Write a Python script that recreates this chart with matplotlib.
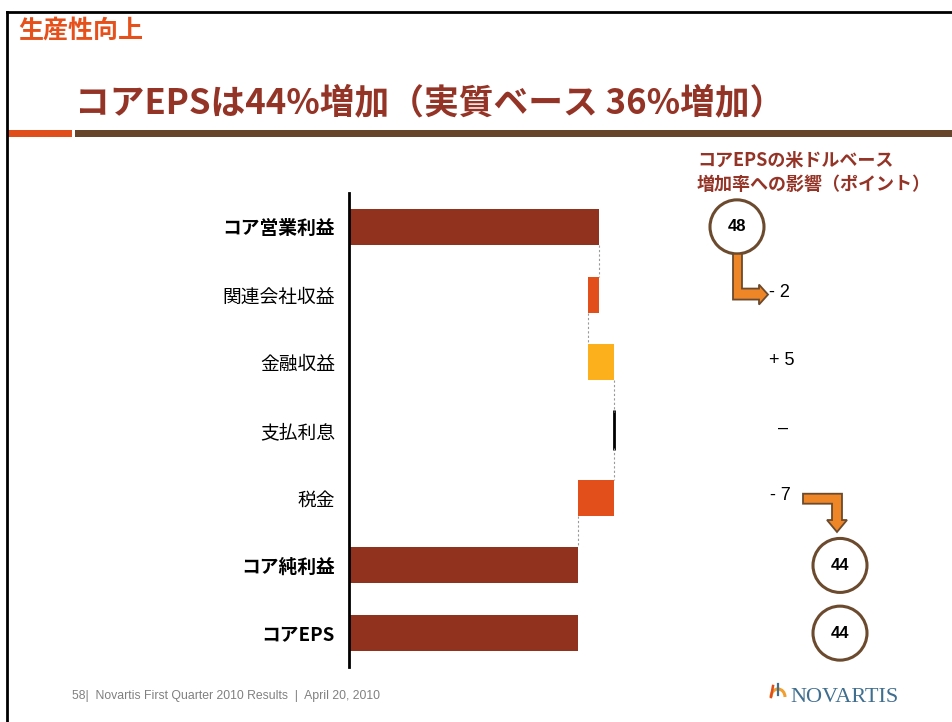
import matplotlib.pyplot as plt
from matplotlib.patches import Circle, Polygon, Arc

plt.rcParams['font.family'] = ['Noto Sans CJK JP', 'DejaVu Sans']

# データ
categories = ["コア営業利益", "関連会社収益", "金融収益", "支払利息", "税金", "コア純利益", "コアEPS"]
values = [48, -2, 5, 0, -7, 44, 44]
is_total = [True, False, False, False, False, True, True]
right_labels = ["48", "- 2", "+ 5", "–", "- 7", "44", "44"]

dark_red = "#91321F"
title_red = "#943427"
orange_red = "#E34F1A"
yellow = "#FCB11C"
brown = "#6B4A2E"
arrow_orange = "#EE8527"
arial = ['Liberation Sans', 'DejaVu Sans']

W, H = 953, 722
fig = plt.figure(figsize=(W / 100, H / 100), dpi=100)

# 全体を覆う装飾用の軸（ピクセル座標, y下向き）
ov = fig.add_axes([0, 0, 1, 1])
ov.set_xlim(0, W)
ov.set_ylim(H, 0)
ov.axis('off')

# 枠線と見出し
ov.plot([7, W], [12, 12], color='black', lw=2)
ov.plot([7, 7], [12, H], color='black', lw=2)
ov.text(18, 31, "生産性向上", color="#E5501B", fontsize=18, fontweight='bold',
        va='center', ha='left')
ov.text(75, 103, "コアEPSは44%増加（実質ベース 36%増加）", color=title_red,
        fontsize=25, fontweight='bold', va='center', ha='left')
ov.fill_between([8, 72], 130, 137, color="#E04E1B", lw=0)
ov.fill_between([75, W], 130, 137, color="#66452A", lw=0)

ov.text(697, 160, "コアEPSの米ドルベース", color=title_red, fontsize=13,
        fontweight='bold', va='center', ha='left')
ov.text(697, 184, "増加率への影響（ポイント）", color=title_red, fontsize=13,
        fontweight='bold', va='center', ha='left')

# 棒グラフの軸
ax_left, ax_top, ax_bottom = 349, 193, 667
row_h = (ax_bottom - ax_top) / len(categories)
xmax = 60
ax = fig.add_axes([ax_left / W, 1 - ax_bottom / H, 312 / W, (ax_bottom - ax_top) / H])
ax.set_xlim(0, xmax)
ax.set_ylim(len(categories) - 0.5, -0.5)
ax.patch.set_alpha(0)

bar_h = 0.53
running = 0
ends = []
for i, (v, tot) in enumerate(zip(values, is_total)):
    if tot:
        ax.barh(i, v, height=bar_h, color=dark_red, lw=0)
        running = v
    elif v == 0:
        ax.vlines(running, i - bar_h / 2 - 0.03, i + bar_h / 2 + 0.03, color='black', lw=2)
    else:
        start = running
        running = running + v
        color = yellow if v > 0 else orange_red
        ax.barh(i, v, left=start, height=bar_h, color=color, lw=0)
    ends.append(running)

# 接続用の点線
for i in range(len(categories) - 2):
    ax.plot([ends[i], ends[i]], [i + bar_h / 2, i + 1 - bar_h / 2],
            color='#9A9A9A', lw=0.8, ls=(0, (2, 2)))

for s in ['top', 'right', 'bottom']:
    ax.spines[s].set_visible(False)
ax.spines['left'].set_linewidth(2)
ax.set_xticks([])
ax.set_yticks(range(len(categories)))
ax.set_yticklabels(categories, fontsize=13.5)
for lab, tot in zip(ax.get_yticklabels(), is_total):
    if tot:
        lab.set_fontweight('bold')
ax.tick_params(axis='y', length=0, pad=10)

# 右側の影響ポイント
def row_y(i):
    return ax_top + (i + 0.5) * row_h

label_x = [737, 779, 782, 783, 780, 840, 840]
for i, (lab, tot) in enumerate(zip(right_labels, is_total)):
    y = row_y(i)
    if tot:
        ov.add_patch(Circle((label_x[i], y), 27, facecolor='white', edgecolor=brown, lw=2.2))
        ov.text(label_x[i], y, lab, fontsize=12, fontweight='bold', ha='center',
                va='center', family=arial)
    else:
        ov.text(label_x[i], y - 2, lab, fontsize=13, ha='center', va='center', family=arial)

# 矢印
y0 = row_y(0) + 27
y1 = row_y(1)
arrow1 = [(733, y0), (742, y0), (742, y1 - 6), (759, y1 - 6), (759, y1 - 10),
          (768, y1), (759, y1 + 10), (759, y1 + 5), (733, y1 + 5)]
ov.add_patch(Polygon(arrow1, closed=True, facecolor=arrow_orange, edgecolor=brown, lw=1.3))
y4 = row_y(4) - 4
arrow2 = [(803, y4), (842, y4), (842, 520), (847, 520), (837, 532),
          (827, 520), (832, 520), (832, y4 + 10), (803, y4 + 10)]
ov.add_patch(Polygon(arrow2, closed=True, facecolor=arrow_orange, edgecolor=brown, lw=1.3))

# フッター
ov.text(72, 696, "58|  Novartis First Quarter 2010 Results  |  April 20, 2010",
        fontsize=8.8, color='#808080', ha='left', va='center', family='Liberation Sans')
ov.text(790, 697, "NOVARTIS", fontsize=16, color='#3F6E8F', ha='left', va='center',
        family='Liberation Serif')
ov.add_patch(Arc((778, 697), 14, 16, theta1=180, theta2=360, color='#F0A030', lw=2.2))
ov.plot([773, 771], [686, 697], color='#E04E1B', lw=1.8)
ov.plot([778, 778], [684, 695], color='#3F6E8F', lw=1.6)

fig.savefig('out.png', dpi=100)
